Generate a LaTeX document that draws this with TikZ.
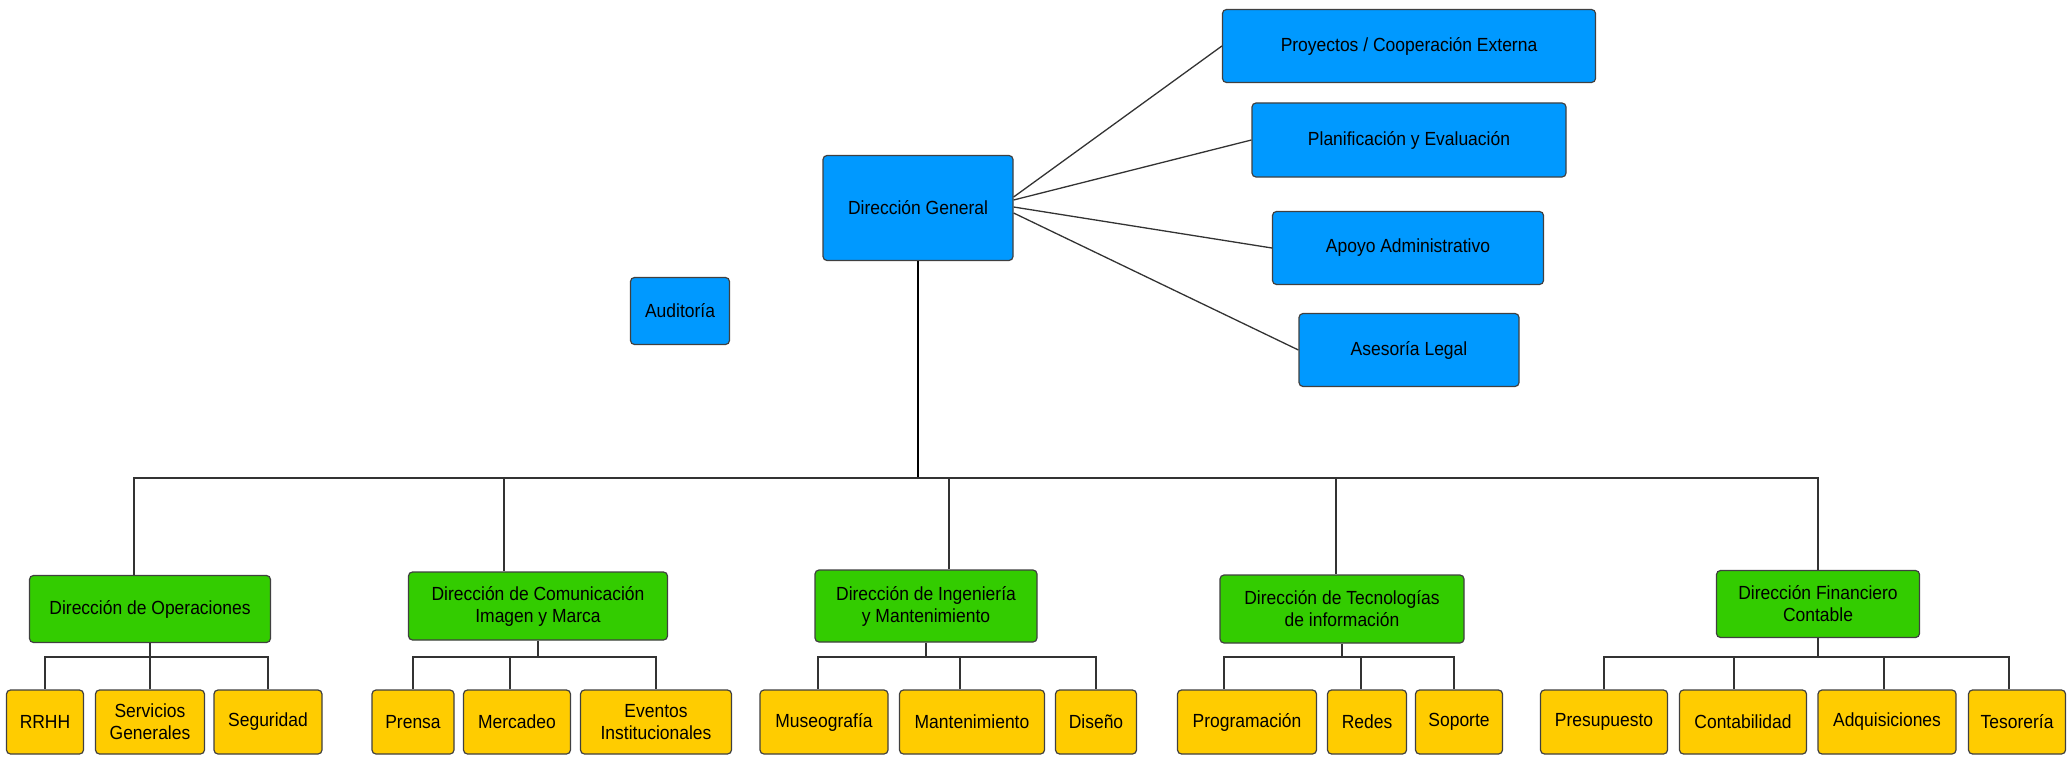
\documentclass[tikz,border=0pt]{standalone}
\usepackage{fontspec}
\setmainfont{Liberation Sans}[FakeStretch=0.92]
\usepackage{tikz}
\usetikzlibrary{positioning}
\definecolor{dirblue}{RGB}{0,153,255}
\definecolor{areagreen}{RGB}{51,204,0}
\definecolor{unityellow}{RGB}{255,204,0}
\newcommand{\orgfont}{\fontsize{19}{22}\selectfont}
\tikzset{
  obox/.style={draw=black!75,rounded corners=4pt,align=center,inner sep=2pt,
    font=\orgfont,line width=1.2pt},
  odir/.style={obox,fill=dirblue},
  oarea/.style={obox,fill=areagreen},
  ounit/.style={obox,fill=unityellow,minimum height=64},
  olink/.style={draw=black!80,line width=1.3pt},
}

\begin{document}
\begin{tikzpicture}[x=1pt,y=-1pt]
\useasboundingbox (0,0) rectangle (2068,757);
% direccion y staff
\node[odir,minimum width=190,minimum height=105] (dg) at (918,208) {Dirección General};
\node[odir,minimum width=373,minimum height=73] (proy) at (1409,46) {Proyectos / Cooperación Externa};
\node[odir,minimum width=314,minimum height=74] (plan) at (1409,140) {Planificación y Evaluación};
\node[odir,minimum width=271,minimum height=73] (apoyo) at (1408,248) {Apoyo Administrativo};
\node[odir,minimum width=220,minimum height=73] (ases) at (1409,350) {Asesoría Legal};
\node[odir,minimum width=99,minimum height=67] (audit) at (680,311) {Auditoría};
% direcciones de area
\node[oarea,minimum width=241,minimum height=67] (ope) at (150,609) {Dirección de Operaciones};
\node[oarea,minimum width=259,minimum height=68] (com) at (538,606) {Dirección de Comunicación\\Imagen y Marca};
\node[oarea,minimum width=222,minimum height=72] (ing) at (926,606) {Dirección de Ingeniería\\y Mantenimiento};
\node[oarea,minimum width=244,minimum height=68] (tec) at (1342,609) {Dirección de Tecnologías\\de información};
\node[oarea,minimum width=203,minimum height=67] (fin) at (1818,604) {Dirección Financiero\\Contable};
% unidades
\node[ounit,minimum width=77] (rrhh) at (45,722) {RRHH};
\node[ounit,minimum width=109] (serv) at (150,722) {Servicios\\Generales};
\node[ounit,minimum width=108] (seg) at (268,722) {Seguridad};
\node[ounit,minimum width=82] (prensa) at (413,722) {Prensa};
\node[ounit,minimum width=107] (merc) at (517,722) {Mercadeo};
\node[ounit,minimum width=151] (evento) at (656,722) {Eventos\\Institucionales};
\node[ounit,minimum width=128] (museo) at (824,722) {Museografía};
\node[ounit,minimum width=145] (mant) at (972,722) {Mantenimiento};
\node[ounit,minimum width=81] (dis) at (1096,722) {Diseño};
\node[ounit,minimum width=139] (prog) at (1247,722) {Programación};
\node[ounit,minimum width=79] (redes) at (1367,722) {Redes};
\node[ounit,minimum width=87] (sop) at (1459,722) {Soporte};
\node[ounit,minimum width=127] (pres) at (1604,722) {Presupuesto};
\node[ounit,minimum width=127] (cont) at (1743,722) {Contabilidad};
\node[ounit,minimum width=138] (adq) at (1887,722) {Adquisiciones};
\node[ounit,minimum width=97] (tes) at (2017,722) {Tesorería};
% staff
\draw[olink] ([yshift=11pt]dg.east) -- (proy.west); \draw[olink] ([yshift=8pt]dg.east) -- (plan.west);
\draw[olink] ([yshift=1pt]dg.east) -- (apoyo.west); \draw[olink] ([yshift=-5pt]dg.east) -- (ases.west);
% linea principal
\draw[olink,draw=black,line width=1.6pt] (dg.south) -- (dg.south |- 0,478) coordinate (bus);
\draw[olink] (bus) -| ([xshift=-16pt]ope.north); \draw[olink] (bus) -| ([xshift=-34pt]com.north);
\draw[olink] (bus) -| ([xshift=23pt]ing.north); \draw[olink] (bus) -| ([xshift=-6pt]tec.north);
\draw[olink] (bus) -| (fin.north);
% ramas
\draw[olink] (ope.south) -- (ope.south |- 0,657) coordinate (bope);
\draw[olink] (bope) -| (rrhh.north); \draw[olink] (bope) -| (serv.north); \draw[olink] (bope) -| (seg.north);
\draw[olink] (com.south) -- (com.south |- 0,657) coordinate (bcom);
\draw[olink] (bcom) -| (prensa.north); \draw[olink] (bcom) -| ([xshift=-7pt]merc.north); \draw[olink] (bcom) -| (evento.north);
\draw[olink] (ing.south) -- (ing.south |- 0,657) coordinate (bing);
\draw[olink] (bing) -| ([xshift=-6pt]museo.north); \draw[olink] (bing) -| ([xshift=-12pt]mant.north); \draw[olink] (bing) -| (dis.north);
\draw[olink] (tec.south) -- (tec.south |- 0,657) coordinate (btec);
\draw[olink] (btec) -| ([xshift=-23pt]prog.north); \draw[olink] (btec) -| ([xshift=-6pt]redes.north); \draw[olink] (btec) -| ([xshift=-5pt]sop.north);
\draw[olink] (fin.south) -- (fin.south |- 0,657) coordinate (bfin);
\draw[olink] (bfin) -| (pres.north); \draw[olink] (bfin) -| ([xshift=-9pt]cont.north);
\draw[olink] (bfin) -| ([xshift=-3pt]adq.north); \draw[olink] (bfin) -| ([xshift=-8pt]tes.north);
\end{tikzpicture}
\end{document}
